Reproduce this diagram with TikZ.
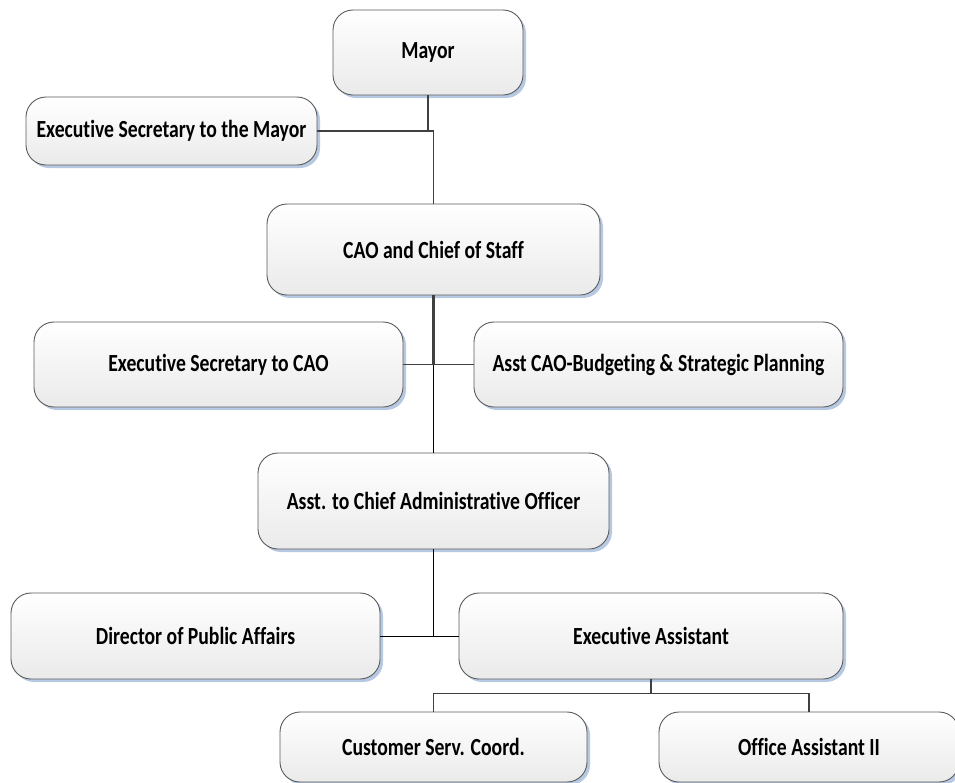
\documentclass[tikz,border=0pt]{standalone}
\usepackage{fontspec}
\usepackage{tikz}
\usetikzlibrary{shadows}
\newfontfamily\orgfont[FakeStretch=0.8,RawFeature=-liga]{Carlito}
\definecolor{BoxLine}{HTML}{5A5A5A}
\definecolor{BoxBottom}{HTML}{EAEAEA}
\definecolor{ShadowBlue}{HTML}{B7C9E2}
\definecolor{Wire}{HTML}{404040}

\begin{document}
\begin{tikzpicture}[x=1pt,y=-1pt]
  \tikzset{
    obox/.style={rectangle, rounded corners=20pt, draw=BoxLine, line width=0.9pt,
      top color=white, bottom color=BoxBottom, align=center,
      font=\orgfont\bfseries\fontsize{24.6}{28}\selectfont, text=black,
      drop shadow={shadow xshift=3pt, shadow yshift=-3pt, fill=ShadowBlue, opacity=1}},
    wire/.style={draw=Wire, line width=1.6pt}
  }
  \useasboundingbox (0,0) rectangle (955,782);
  \clip (0,0) rectangle (955,782);

  \node[obox, minimum width=190pt, minimum height=85pt] (mayor) at (428,52.5) {Mayor};
  \node[obox, minimum width=291pt, minimum height=68pt] (secmayor) at (171.5,131) {Executive Secretary to the Mayor};
  \node[obox, minimum width=333pt, minimum height=91pt] (cao) at (433.5,249.5) {CAO and Chief of Staff};
  \node[obox, minimum width=369pt, minimum height=85pt] (seccao) at (218.5,364.5) {Executive Secretary to CAO};
  \node[obox, minimum width=369pt, minimum height=85pt] (asstcao) at (658.5,364.5) {Asst CAO-Budgeting \& Strategic Planning};
  \node[obox, minimum width=351pt, minimum height=96pt] (asstto) at (433.5,501) {Asst. to Chief Administrative Officer};
  \node[obox, minimum width=369pt, minimum height=86pt] (director) at (195.5,636) {Director of Public Affairs};
  \node[obox, minimum width=384pt, minimum height=86pt] (execasst) at (651,636) {Executive Assistant};
  \node[obox, minimum width=307pt, minimum height=70pt] (custserv) at (433.5,747) {Customer Serv. Coord.};
  \node[obox, minimum width=300pt, minimum height=70pt] (officeasst) at (809,747) {Office Assistant II};

  % mayor level
  \coordinate (jmayor) at (mayor.south |- secmayor.east);
  \draw[wire] (mayor.south) -- (jmayor) -- (secmayor.east);
  \draw[wire] (jmayor) -| (cao.north);

  % cao level
  \coordinate (jcao) at (cao.south |- seccao.east);
  \draw[wire, line width=2.4pt] (cao.south) -- (jcao);
  \draw[wire] (seccao.east) -- (asstcao.west);
  \draw[black, line width=0.8pt] (jcao) -- (asstto.north);

  % assistant level
  \coordinate (jasst) at (asstto.south |- director.east);
  \draw[black, line width=0.8pt] (asstto.south) -- (jasst);
  \draw[black, line width=0.8pt] (director.east) -- (execasst.west);

  % bottom level
  \foreach \b in {custserv,officeasst}{
    \draw[wire] (execasst.south) -- ++(0,14) -| (\b.north);
  }
\end{tikzpicture}
\end{document}
